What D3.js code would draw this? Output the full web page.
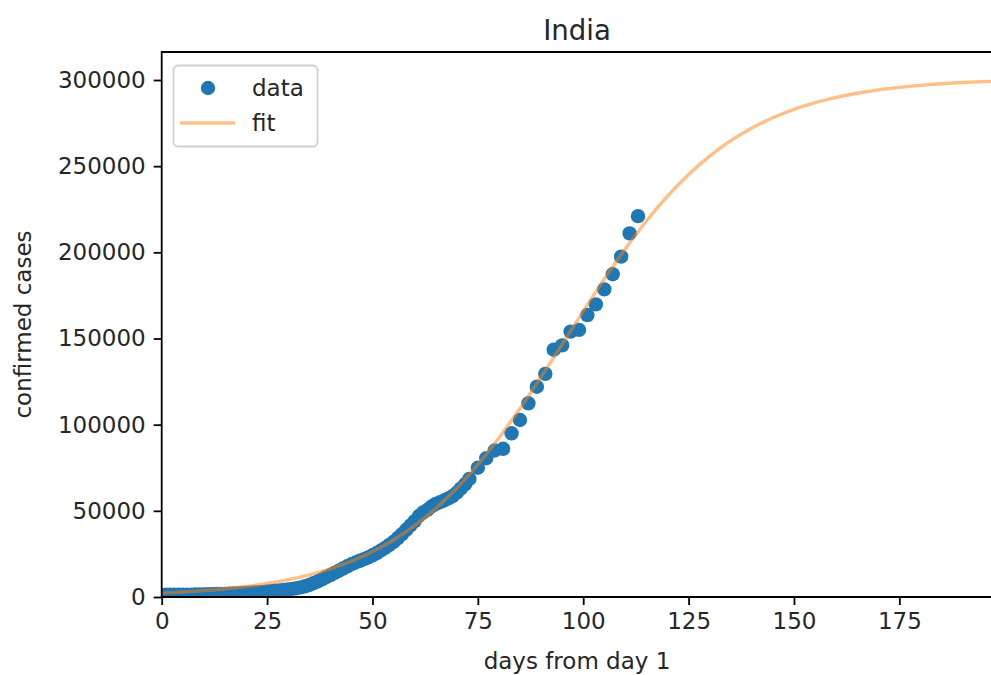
<!DOCTYPE html>
<html>
<head>
<meta charset="utf-8">
<script src="https://cdn.jsdelivr.net/npm/d3@7"></script>
<style>
  html, body { margin: 0; padding: 0; background: #fff; }
  svg { display: block; font-family: "DejaVu Sans", sans-serif; }
</style>
</head>
<body>
<svg id="chart" width="991" height="675"></svg>
<script>
// ---- data ----
const dataDays = [0,1,2,3,4,5,6,7,8,9,10,11,12,13,14,15,16,17,18,19,20,21,22,23,24,25,26,27,28,29,30,31,32,33,34,35,36,37,38,39,40,41,42,43,44,45,46,47,48,49,50,51,52,53,54,55,56,57,58,59,60,61,62,63,64,65,66,67,68,69,70,71,72,73,75,77,79,81,83,85,87,89,91,93,95,97,99,101,103,105,107,109,111,113];
const dataCases = [1200,1300,1300,1300,1350,1400,1400,1400,1450,1500,1550,1600,1650,1700,1750,1800,1900,2000,2100,2200,2350,2500,2650,2800,3000,3200,3400,3600,3850,4100,4400,4700,5100,5600,6200,7000,8000,9000,10200,11500,12700,14000,15200,16500,17800,19000,20000,21000,22000,23000,24200,25500,27000,28500,30200,32000,34200,36500,39000,41500,44000,47000,49000,50500,52500,54000,55000,56000,57200,58500,60500,63000,65500,68500,75000,80500,85000,86000,95000,102700,112400,122000,129500,143500,146000,154000,155000,163600,169800,178500,187300,197500,211000,221000];

const fitDays = [0,5,10,15,20,25,30,35,40,45,50,55,60,65,70,75,80,85,90,95,100,105,110,115,120,125,130,135,140,145,150,155,160,165,170,175,180,185,190,195,200];
const fitCases = [2233,2878,3704,4760,6114,7845,10047,12841,16367,20787,26311,33103,41392,51365,63156,76825,92303,109375,127651,146649,165786,184447,202055,218195,232594,245134,255822,264778,272152,278135,282975,286847,289914,292338,294244,295740,296906,297819,298528,299083,299511];

const xTicks = [0,25,50,75,100,125,150,175];
const yTicks = [0,50000,100000,150000,200000,250000,300000];

const titleText = "India";
const xLabel = "days from day 1";
const yLabel = "confirmed cases";
const legendLabels = ["data", "fit"];

(function () {
  // ---- layout ----
  const W = 991, H = 675;
  const pL = 161.7, pR = 996.3, pT = 52, pB = 597;
  const blue = "#1f77b4", orange = "#ff7f0e";

  const svg = d3.select("#chart");
  const x = d3.scaleLinear().domain([0, 198]).range([pL, pR]);
  const y = d3.scaleLinear().domain([0, 316250]).range([pB, pT]);

  svg.append("defs").append("clipPath").attr("id", "plotclip")
    .append("rect").attr("x", pL).attr("y", pT).attr("width", pR - pL).attr("height", pB - pT);

  const plot = svg.append("g").attr("clip-path", "url(#plotclip)");

  // data points
  plot.selectAll("circle.pt").data(dataDays.map((d, i) => [d, dataCases[i]]))
    .join("circle").attr("class", "pt")
    .attr("cx", d => x(d[0])).attr("cy", d => y(d[1]))
    .attr("r", 7.2).attr("fill", blue);

  // fit line
  const line = d3.line().x(d => x(d[0])).y(d => y(d[1])).curve(d3.curveMonotoneX);
  plot.append("path").datum(fitDays.map((d, i) => [d, fitCases[i]]))
    .attr("d", line).attr("fill", "none")
    .attr("stroke", orange).attr("stroke-opacity", 0.5).attr("stroke-width", 3.4);

  // axes
  const fontSize = 23;
  const xAxis = svg.append("g").attr("transform", `translate(0,${pB})`)
    .call(d3.axisBottom(x).tickValues(xTicks).tickSize(8).tickPadding(8).tickFormat(d3.format("d")));
  const yAxis = svg.append("g").attr("transform", `translate(${pL},0)`)
    .call(d3.axisLeft(y).tickValues(yTicks).tickSize(8).tickPadding(8).tickFormat(d3.format("d")));
  [xAxis, yAxis].forEach(a => {
    a.select(".domain").remove();
    a.selectAll(".tick line").attr("stroke", "#000").attr("stroke-width", 1.8);
    a.selectAll(".tick text").attr("fill", "#262626").style("font-size", fontSize + "px")
      .style("font-family", "DejaVu Sans");
  });

  // spines
  svg.append("line").attr("x1", pL).attr("x2", W + 5).attr("y1", pB).attr("y2", pB)
    .attr("stroke", "#000").attr("stroke-width", 1.8);
  svg.append("line").attr("x1", pL).attr("x2", W + 5).attr("y1", pT).attr("y2", pT)
    .attr("stroke", "#000").attr("stroke-width", 1.8);
  svg.append("line").attr("x1", pL).attr("x2", pL).attr("y1", pT - 0.9).attr("y2", pB + 0.9)
    .attr("stroke", "#000").attr("stroke-width", 1.8);

  // title & labels
  svg.append("text").attr("x", (pL + pR) / 2 - 2).attr("y", 40).attr("text-anchor", "middle")
    .style("font-size", "27.6px").attr("fill", "#262626").text(titleText);
  svg.append("text").attr("x", (pL + pR) / 2 - 2).attr("y", 669).attr("text-anchor", "middle")
    .style("font-size", fontSize + "px").attr("fill", "#262626").text(xLabel);
  svg.append("text").attr("transform", `translate(30.5,${(pT + pB) / 2}) rotate(-90)`)
    .attr("text-anchor", "middle").style("font-size", fontSize + "px").attr("fill", "#262626").text(yLabel);

  // legend
  const lg = svg.append("g");
  lg.append("rect").attr("x", 173.5).attr("y", 65.5).attr("width", 144).attr("height", 81)
    .attr("rx", 4.6).attr("fill", "#fff").attr("fill-opacity", 0.8)
    .attr("stroke", "#d0d0d0").attr("stroke-width", 1.8);
  lg.append("circle").attr("cx", 208).attr("cy", 88).attr("r", 7.2).attr("fill", blue);
  lg.append("line").attr("x1", 180).attr("x2", 235).attr("y1", 123).attr("y2", 123)
    .attr("stroke", orange).attr("stroke-opacity", 0.5).attr("stroke-width", 3.4);
  lg.selectAll("text.lt").data(legendLabels).join("text").attr("class", "lt")
    .attr("x", 252).attr("y", (d, i) => 88 + i * 35 + 8.4)
    .style("font-size", fontSize + "px").attr("fill", "#262626").text(d => d);
})();
</script>
</body>
</html>
